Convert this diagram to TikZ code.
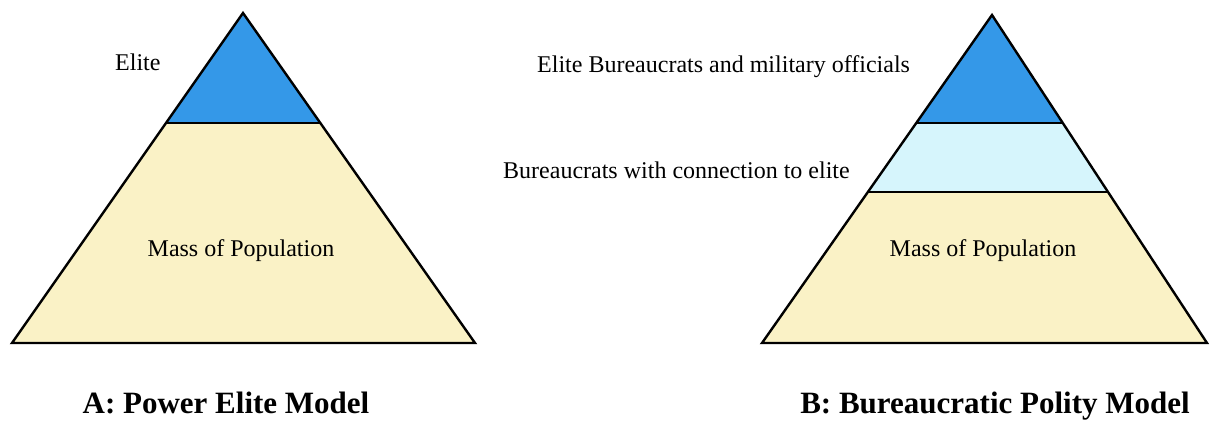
\documentclass[tikz,border=0pt]{standalone}
\usepackage{fontspec}
\setmainfont{Liberation Serif}
\newfontfamily\timesface{Liberation Serif}
\usetikzlibrary{calc}
\definecolor{eliteblue}{RGB}{52,152,232}
\definecolor{midcyan}{RGB}{214,245,252}
\definecolor{massbeige}{RGB}{250,242,198}
\tikzset{
  outline/.style={draw=black,line width=2.4pt,line join=miter},
  layerline/.style={draw=black,line width=2.2pt},
  tierlabel/.style={inner sep=0pt,font=\timesface\fontsize{24}{28}\selectfont},
  caption/.style={inner sep=0pt,font=\timesface\fontsize{31}{36}\selectfont\bfseries}
}
\begin{document}
\begin{tikzpicture}[x=1pt,y=-1pt]
\useasboundingbox[fill=white] (0,0) rectangle (1210,424);

% ---- A: power elite pyramid ----
\coordinate (aTop) at (243,13);
\coordinate (aL) at (12,343);
\coordinate (aR) at (475,343);
\coordinate (a1L) at ($(aTop)!0.3333!(aL)$);
\coordinate (a1R) at ($(aTop)!0.3333!(aR)$);
\fill[massbeige] (aTop) -- (aL) -- (aR) -- cycle;
\fill[eliteblue] (aTop) -- (a1L) -- (a1R) -- cycle;
\draw[layerline] (a1L) -- (a1R);
\draw[outline] (aTop) -- (aL) -- (aR) -- cycle;

\node[tierlabel,anchor=base west] (aElite) at (115,70) {Elite};
\node[tierlabel,anchor=base] (aMass) at (241,256) {Mass of Population};
\node[caption,anchor=base] (aCap) at (226,413) {A: Power Elite Model};

% ---- B: bureaucratic polity pyramid ----
\coordinate (bTop) at (992,15);
\coordinate (bL) at (762,343);
\coordinate (bR) at (1207,343);
\coordinate (b1L) at ($(bTop)!0.329!(bL)$);
\coordinate (b1R) at ($(bTop)!0.329!(bR)$);
\coordinate (b2L) at ($(bTop)!0.54!(bL)$);
\coordinate (b2R) at ($(bTop)!0.54!(bR)$);
\fill[massbeige] (bTop) -- (bL) -- (bR) -- cycle;
\fill[midcyan] (bTop) -- (b2L) -- (b2R) -- cycle;
\fill[eliteblue] (bTop) -- (b1L) -- (b1R) -- cycle;
\draw[layerline] (b1L) -- (b1R);
\draw[layerline] (b2L) -- (b2R);
\draw[outline] (bTop) -- (bL) -- (bR) -- cycle;

\node[tierlabel,anchor=base west] (bElite) at (537,72) {Elite Bureaucrats and military officials};
\node[tierlabel,anchor=base west] (bConn) at (503,178) {Bureaucrats with connection to elite};
\node[tierlabel,anchor=base] (bMass) at (983,256) {Mass of Population};
\node[caption,anchor=base] (bCap) at (995,413) {B: Bureaucratic Polity Model};
\end{tikzpicture}
\end{document}
